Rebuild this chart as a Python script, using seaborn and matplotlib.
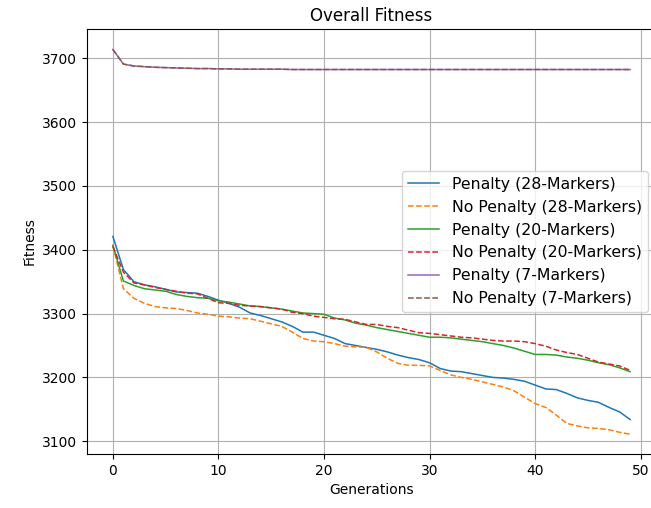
import numpy as np
import pandas as pd
import matplotlib
matplotlib.use("Agg")
import matplotlib.pyplot as plt
import seaborn as sns

generations = list(range(50))

penalty_28 = [3421, 3369, 3350, 3345, 3342, 3338, 3334, 3333, 3332, 3327,
              3321, 3316, 3310, 3301, 3297, 3292, 3287, 3280, 3271, 3271,
              3266, 3261, 3253, 3250, 3247, 3244, 3240, 3235, 3231, 3228,
              3223, 3214, 3210, 3209, 3206, 3203, 3200, 3199, 3197, 3194,
              3188, 3182, 3181, 3175, 3168, 3164, 3161, 3153, 3146, 3134]

no_penalty_28 = [3407, 3339, 3324, 3316, 3311, 3309, 3308, 3305, 3301, 3299,
                 3296, 3295, 3293, 3292, 3288, 3284, 3280, 3271, 3261, 3257,
                 3256, 3253, 3249, 3248, 3247, 3240, 3230, 3222, 3219, 3219,
                 3218, 3211, 3204, 3200, 3197, 3193, 3189, 3185, 3179, 3169,
                 3159, 3153, 3141, 3128, 3124, 3121, 3120, 3118, 3114, 3111]

penalty_20 = [3407, 3351, 3344, 3339, 3337, 3335, 3330, 3327, 3325, 3324,
              3320, 3318, 3315, 3312, 3311, 3309, 3307, 3304, 3301, 3300,
              3299, 3293, 3290, 3285, 3282, 3278, 3275, 3272, 3269, 3266,
              3263, 3263, 3262, 3260, 3258, 3256, 3253, 3250, 3246, 3241,
              3236, 3236, 3235, 3232, 3230, 3227, 3223, 3220, 3215, 3209]

no_penalty_20 = [3405, 3365, 3348, 3345, 3341, 3338, 3335, 3332, 3331, 3324,
                 3317, 3316, 3313, 3312, 3311, 3309, 3307, 3302, 3300, 3296,
                 3294, 3292, 3291, 3287, 3283, 3283, 3280, 3278, 3274, 3270,
                 3269, 3267, 3265, 3263, 3262, 3260, 3258, 3257, 3257, 3256,
                 3253, 3249, 3243, 3239, 3236, 3230, 3224, 3221, 3218, 3211]

penalty_7 = [3714, 3691, 3688, 3687, 3686, 3685.5, 3685, 3684.5, 3684, 3684,
             3683.5, 3683.5, 3683, 3683, 3683, 3683, 3683, 3682.5, 3682.5, 3682.5,
             3682.5, 3682.5, 3682.5, 3682.5, 3682.5, 3682.5, 3682.5, 3682.5, 3682.5, 3682.5,
             3682.5, 3682.5, 3682.5, 3682.5, 3682.5, 3682.5, 3682.5, 3682.5, 3682.5, 3682.5,
             3682.5, 3682.5, 3682.5, 3682.5, 3682.5, 3682.5, 3682.5, 3682.5, 3682.5, 3682.5]

no_penalty_7 = [3714, 3691, 3688, 3687, 3686, 3685.5, 3685, 3684.5, 3684, 3684,
                3683.5, 3683.5, 3683, 3683, 3683, 3683, 3683, 3682.5, 3682.5, 3682.5,
                3682.5, 3682.5, 3682.5, 3682.5, 3682.5, 3682.5, 3682.5, 3682.5, 3682.5, 3682.5,
                3682.5, 3682.5, 3682.5, 3682.5, 3682.5, 3682.5, 3682.5, 3682.5, 3682.5, 3682.5,
                3682.5, 3682.5, 3682.5, 3682.5, 3682.5, 3682.5, 3682.5, 3682.5, 3682.5, 3682.5]

series_labels = ["Penalty (28-Markers)", "No Penalty (28-Markers)",
                 "Penalty (20-Markers)", "No Penalty (20-Markers)",
                 "Penalty (7-Markers)", "No Penalty (7-Markers)"]
series_values = [penalty_28, no_penalty_28, penalty_20, no_penalty_20,
                 penalty_7, no_penalty_7]

colors = ["#1f77b4", "#ff7f0e", "#2ca02c", "#d62728", "#9467bd", "#8c564b"]
styles = ["-", "--", "-", "--", "-", "--"]

fig = plt.figure(figsize=(6.51, 5.08), dpi=100)
ax = fig.add_axes([87 / 651, (508 - 454) / 508, (656 - 87) / 651, (454 - 29) / 508])

for label, vals, c, ls in zip(series_labels, series_values, colors, styles):
    df = pd.DataFrame({"Generations": generations, "Fitness": vals})
    sns.lineplot(data=df, x="Generations", y="Fitness", ax=ax, color=c,
                 linestyle=ls, linewidth=1.1, label=label)

ax.set_xlim(-2.45, 51.45)
ax.set_ylim(3080, 3746)
ax.set_xticks([0, 10, 20, 30, 40, 50])
ax.set_yticks([3100, 3200, 3300, 3400, 3500, 3600, 3700])
ax.grid(True, color="#b0b0b0", linewidth=0.8)
ax.set_axisbelow(True)
ax.set_title("Overall Fitness", fontsize=12)
ax.set_xlabel("Generations")
ax.set_ylabel("Fitness")
ax.legend(loc="center right", fontsize=11.3)

fig.savefig("out.png", dpi=100)
